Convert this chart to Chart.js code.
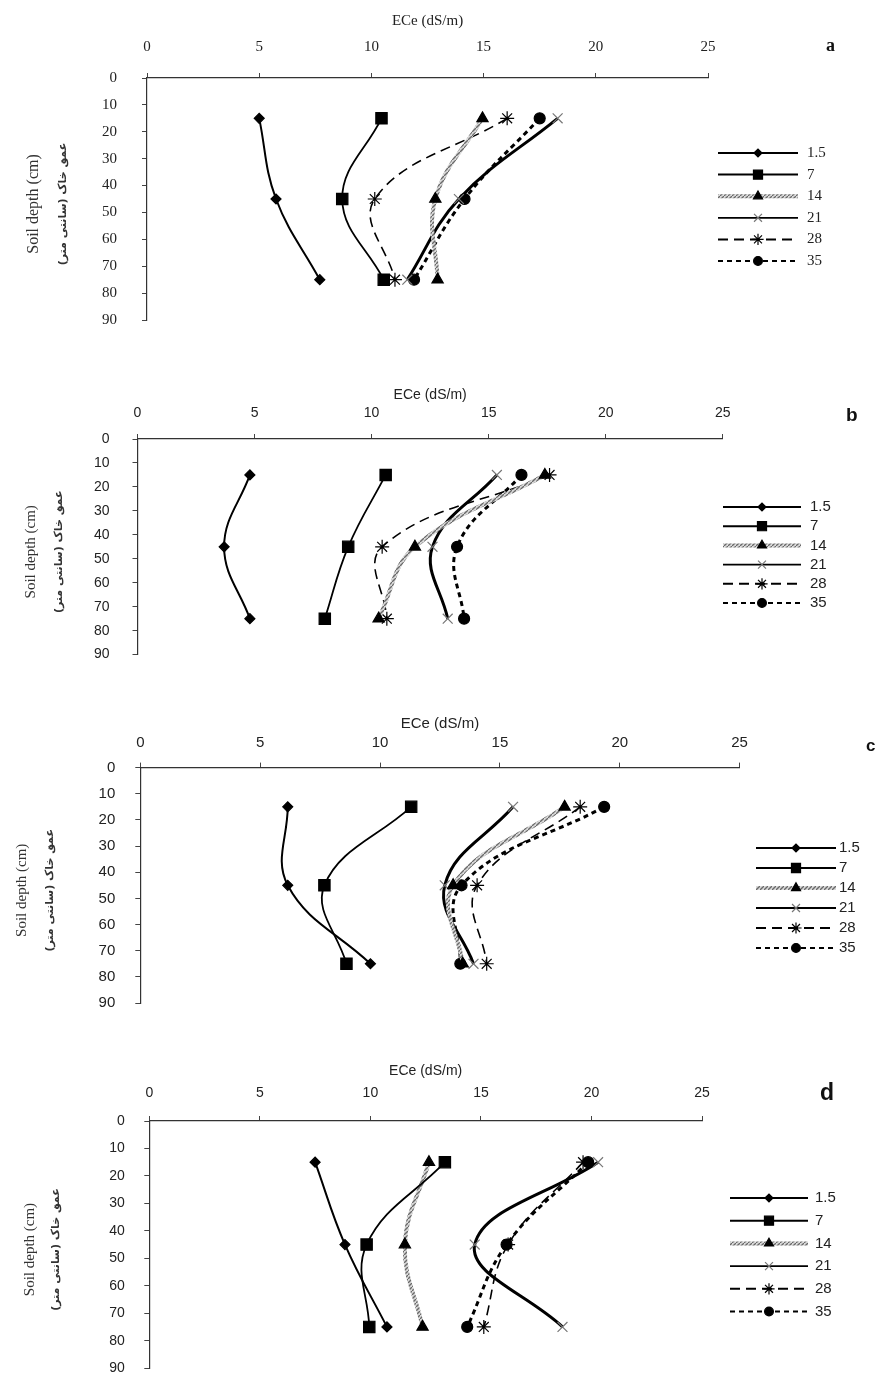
<!DOCTYPE html>
<html>
<head>
<meta charset="utf-8">
<script src="https://cdn.jsdelivr.net/npm/chart.js@4.4.1/dist/chart.umd.min.js"></script>
<style>
  body { margin: 0; background: #fff; width: 880px; height: 1373px; overflow: hidden; position: relative; }
  canvas { position: absolute; left: 0; }
  .tag { position: absolute; color: #111; font-weight: bold; }
</style>
</head>
<body>
<canvas id="ca" width="880" height="354" style="top:0px"></canvas>
<canvas id="cb" width="880" height="336" style="top:350px"></canvas>
<canvas id="cc" width="880" height="342" style="top:690px"></canvas>
<canvas id="cd" width="880" height="361" style="top:1035px"></canvas>
<div class="tag" style="left:826px;top:35px;font:bold 18px 'Liberation Serif'">a</div>
<div class="tag" style="left:846px;top:404px;font:bold 19px 'Liberation Sans'">b</div>
<div class="tag" style="left:866px;top:736px;font:bold 17px 'Liberation Sans'">c</div>
<div class="tag" style="left:820px;top:1079px;font:bold 23px 'Liberation Sans'">d</div>
<script>
// depths sampled (cm)
const depths = [15, 45, 75];
const seriesNames = ['1.5', '7', '14', '21', '28', '35'];
const ecTicks = [0, 5, 10, 15, 20, 25];
const depthTicks = [0, 10, 20, 30, 40, 50, 60, 70, 80, 90];

// ECe (dS/m) for each series at 15, 45, 75 cm
const ecA = [
  [5.0, 5.75, 7.7],
  [10.45, 8.7, 10.55],
  [14.95, 12.85, 12.95],
  [18.3, 13.9, 11.6],
  [16.05, 10.15, 11.05],
  [17.5, 14.15, 11.9]
];
const ecB = [
  [4.8, 3.7, 4.8],
  [10.6, 9.0, 8.0],
  [17.4, 11.85, 10.3],
  [15.35, 12.6, 13.25],
  [17.6, 10.45, 10.65],
  [16.4, 13.65, 13.95]
];
const ecC = [
  [6.15, 6.15, 9.6],
  [11.3, 7.68, 8.6],
  [17.7, 13.05, 13.45],
  [15.55, 12.7, 13.9],
  [18.35, 14.05, 14.45],
  [19.35, 13.4, 13.35]
];
const ecD = [
  [7.5, 8.85, 10.75],
  [13.37, 9.83, 9.95],
  [12.65, 11.56, 12.36],
  [20.3, 14.72, 18.69],
  [19.62, 16.23, 15.13],
  [19.85, 16.16, 14.38]
];

const xTitle = 'ECe (dS/m)';
const yTitle = ['Soil depth (cm)', 'عمق خاک (سانتی متر)'];

// grey hatched line like the excel one
function hatch() {
  let c = document.createElement('canvas');
  c.width = 4; c.height = 4;
  let g = c.getContext('2d');
  g.fillStyle = '#d8d8d8';
  g.fillRect(0, 0, 4, 4);
  g.strokeStyle = '#6a6a6a';
  g.lineWidth = 1.3;
  g.beginPath(); g.moveTo(0, 4); g.lineTo(4, 0); g.stroke();
  return g.createPattern(c, 'repeat');
}
const grey = hatch();

const lineStyles = [
  { pointStyle: 'rectRot', radius: 5, width: 2, dash: [], color: '#000', fill: '#000', edge: '#000', legW: 2 },
  { pointStyle: 'rect', radius: 8, width: 1.8, dash: [], color: '#000', fill: '#000', edge: '#000', legW: 2 },
  { pointStyle: 'triangle', radius: 6.5, width: 4, dash: [], color: grey, fill: '#000', edge: '#000', legW: 4 },
  { pointStyle: 'crossRot', radius: 7, width: 3, dash: [], color: '#000', fill: '#777', edge: '#777', legW: 1.8 },
  { pointStyle: 'star', radius: 7, width: 1.6, dash: [10, 6], color: '#000', fill: '#000', edge: '#000', legW: 2 },
  { pointStyle: 'circle', radius: 5.5, width: 3, dash: [5, 4], color: '#000', fill: '#000', edge: '#000', legW: 2 }
];

function sideTitle(p) {
  return {
    id: 'sideTitle',
    afterDraw(chart) {
      const ctx = chart.ctx, a = chart.chartArea;
      const cy = (a.top + a.bottom) / 2 + 5;
      yTitle.forEach((txt, i) => {
        ctx.save();
        ctx.fillStyle = '#333';
        ctx.textAlign = 'center';
        ctx.textBaseline = 'middle';
        ctx.translate(p.titleXs[i], cy);
        ctx.rotate(-Math.PI / 2);
        ctx.font = i === 0 ? p.yFont : "bold 11px 'DejaVu Sans'";
        ctx.fillText(txt, 0, 0);
        ctx.restore();
      });
    }
  };
}

function lineLegend(p) {
  return {
    id: 'lineLegend',
    afterDraw(chart) {
      const ctx = chart.ctx;
      chart.data.datasets.forEach((ds, i) => {
        const st = lineStyles[i];
        const y = p.legY - p.top + i * p.legGap;
        const x0 = p.legX, x1 = p.legX + p.legLen;
        ctx.save();
        ctx.strokeStyle = st.color;
        ctx.lineWidth = st.legW;
        ctx.setLineDash(st.dash);
        ctx.beginPath(); ctx.moveTo(x0, y); ctx.lineTo(x1, y); ctx.stroke();
        ctx.setLineDash([]);
        ctx.fillStyle = st.fill;
        ctx.strokeStyle = st.edge;
        ctx.lineWidth = 1.2;
        Chart.helpers.drawPoint(ctx, { pointStyle: st.pointStyle, radius: st.radius * 0.8, borderWidth: 1.2, rotation: 0 }, (x0 + x1) / 2, y);
        ctx.fillStyle = '#222';
        ctx.font = p.tickFont;
        ctx.textBaseline = 'middle';
        ctx.fillText(ds.label, x1 + p.legPad, y);
        ctx.restore();
      });
    }
  };
}

function makePanel(p, values) {
  const datasets = values.map((row, i) => {
    const st = lineStyles[i];
    return {
      label: seriesNames[i],
      data: row.map((v, k) => ({ x: v, y: depths[k] })),
      showLine: true,
      tension: 0.4,
      borderColor: st.color,
      borderWidth: st.width,
      borderDash: st.dash,
      pointStyle: st.pointStyle,
      pointRadius: st.radius,
      pointBackgroundColor: st.fill,
      pointBorderColor: st.edge,
      pointBorderWidth: 1.2
    };
  });
  const [fs, ff] = p.tickFontParts;
  new Chart(document.getElementById(p.id), {
    type: 'scatter',
    data: { datasets: datasets },
    options: {
      responsive: false,
      animation: false,
      devicePixelRatio: 1,
      // bottom gap comes from the y tick padding, so no extra padding there
      layout: { padding: { left: 0, top: p.padT, right: 880 - p.xRight, bottom: 0 } },
      plugins: { legend: { display: false }, tooltip: { enabled: false } },
      scales: {
        x: {
          type: 'linear',
          position: 'top',
          min: 0, max: 25,
          afterBuildTicks: s => { s.ticks = ecTicks.map(v => ({ value: v })); },
          afterFit: s => { s.height = p.xH; },
          ticks: { color: '#222', font: { size: fs, family: ff }, padding: p.xPad, maxRotation: 0 },
          grid: { drawOnChartArea: false, drawTicks: true, tickLength: 5, color: '#444' },
          border: { display: true, color: '#333', width: 1.2 },
          title: { display: true, text: xTitle, color: '#222', font: { size: fs, family: ff }, padding: { top: 4, bottom: 0 } }
        },
        y: {
          type: 'linear',
          reverse: true,
          min: 0, max: 90,
          afterBuildTicks: s => { s.ticks = depthTicks.map(v => ({ value: v })); },
          afterFit: s => { s.width = p.yLeft; },
          ticks: { color: '#222', font: { size: fs, family: ff }, padding: p.yPad },
          grid: { drawOnChartArea: false, drawTicks: true, tickLength: 5, color: '#444' },
          border: { display: true, color: '#333', width: 1.2 }
        }
      }
    },
    plugins: [sideTitle(p), lineLegend(p)]
  });
}

const serif = "'Liberation Serif'";
const sans = "'Liberation Sans'";

makePanel({ id: 'ca', top: 0, padT: 8, xH: 70, yLeft: 147, xRight: 708,
  tickFontParts: [15, serif], tickFont: "15px 'Liberation Serif'", yFont: "16px 'Liberation Serif'",
  xPad: 17, yPad: 25, titleXs: [34, 63],
  legX: 718, legLen: 80, legPad: 9, legY: 153, legGap: 21.6 }, ecA);

makePanel({ id: 'cb', top: 350, padT: 32.6, xH: 56.4, yLeft: 137.5, xRight: 722.8,
  tickFontParts: [14, sans], tickFont: "15px 'Liberation Sans'", yFont: "15px 'Liberation Serif'",
  xPad: 12.6, yPad: 23, titleXs: [31, 59],
  legX: 723, legLen: 78, legPad: 9, legY: 507, legGap: 19.2 }, ecB);

makePanel({ id: 'cc', top: 690, padT: 20.6, xH: 57, yLeft: 140.3, xRight: 739.6,
  tickFontParts: [15, sans], tickFont: "15px 'Liberation Sans'", yFont: "15px 'Liberation Serif'",
  xPad: 11, yPad: 20, titleXs: [22, 50],
  legX: 756, legLen: 80, legPad: 3, legY: 848, legGap: 20 }, ecC);

makePanel({ id: 'cd', top: 1035, padT: 23.6, xH: 62.4, yLeft: 149.3, xRight: 702,
  tickFontParts: [14, sans], tickFont: "15px 'Liberation Sans'", yFont: "15px 'Liberation Serif'",
  xPad: 14.6, yPad: 19.5, titleXs: [30, 56],
  legX: 730, legLen: 78, legPad: 7, legY: 1198, legGap: 22.7 }, ecD);
</script>
</body>
</html>
